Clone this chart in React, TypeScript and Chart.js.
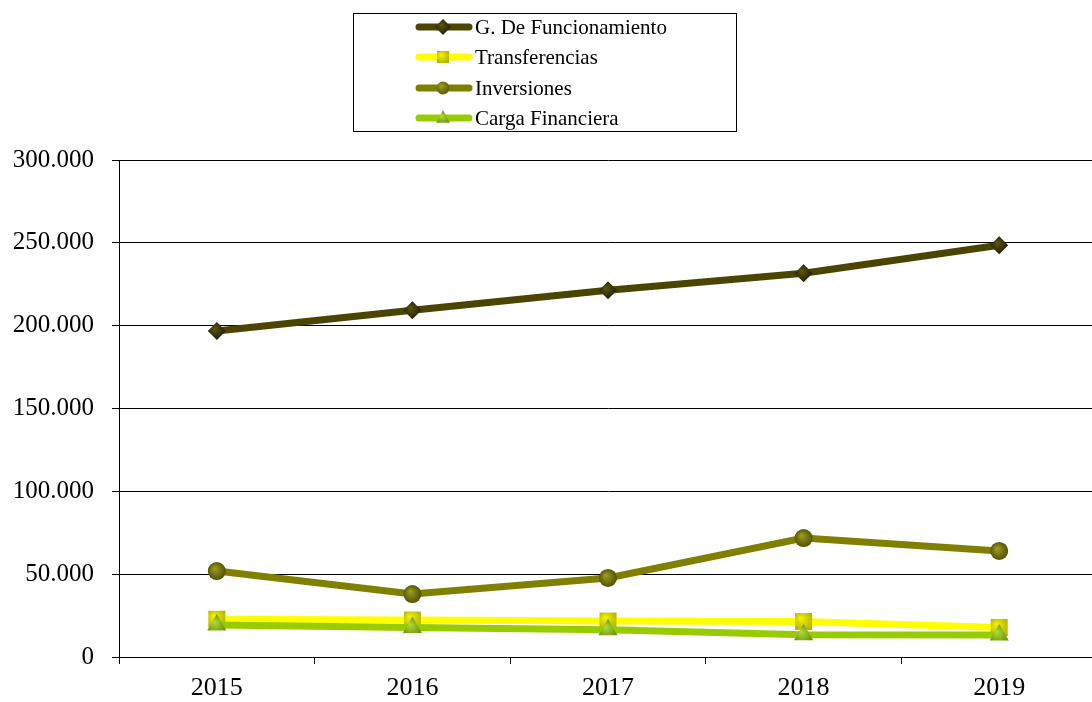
import React, { useEffect, useRef } from "react";
import { Chart, registerables } from "chart.js";

Chart.register(...registerables);

const years = ["2015", "2016", "2017", "2018", "2019"];
const funcionamiento = [196800, 209300, 221400, 231600, 248500];
const transferencias = [22800, 22300, 21700, 21400, 17800];
const inversiones = [51900, 38000, 47700, 71800, 64000];
const cargaFinanciera = [19300, 17800, 16400, 13400, 13300];
const yTicks = [0, 50000, 100000, 150000, 200000, 250000, 300000];

const seriesNames = ["G. De Funcionamiento", "Transferencias", "Inversiones", "Carga Financiera"];
const lineColors = ["#4a4500", "#ffff00", "#808000", "#99cc00"];
const markerLight = ["#5e5812", "#f4f400", "#a0a024", "#b4dc3c"];
const markerDark = ["#1c1a00", "#a4a400", "#4c4c00", "#5a8400"];
const markerStyles = ["rectRot", "rect", "circle", "triangle"];

const fmt = (v: number) => (v === 0 ? "0" : v.toLocaleString("de-DE"));

function grad(ctx: CanvasRenderingContext2D, i: number, x: number, y: number, r: number) {
  if (!isFinite(x) || !isFinite(y)) return markerDark[i] as any;
  const g = ctx.createRadialGradient(x - r * 0.25, y - r * 0.3, 0, x, y, r * 1.1);
  g.addColorStop(0, markerLight[i]);
  g.addColorStop(1, markerDark[i]);
  return g;
}

function drawMarker(ctx: CanvasRenderingContext2D, i: number, x: number, y: number, r: number) {
  const style = markerStyles[i];
  ctx.fillStyle = grad(ctx, i, x, y, r);
  ctx.beginPath();
  if (style === "rectRot") {
    ctx.moveTo(x - r, y);
    ctx.lineTo(x, y - r);
    ctx.lineTo(x + r, y);
    ctx.lineTo(x, y + r);
    ctx.closePath();
  } else if (style === "rect") {
    const s = r * 0.75;
    ctx.rect(x - s, y - s, 2 * s, 2 * s);
  } else if (style === "circle") {
    ctx.arc(x, y, r * 0.8, 0, Math.PI * 2);
  } else {
    ctx.moveTo(x, y - r);
    ctx.lineTo(x + r * 0.85, y + r * 0.6);
    ctx.lineTo(x - r * 0.85, y + r * 0.6);
    ctx.closePath();
  }
  ctx.fill();
}

const legendPlugin = {
  id: "boxLegend",
  afterDraw(chart: any) {
    const ctx = chart.ctx as CanvasRenderingContext2D;
    ctx.save();
    ctx.strokeStyle = "#000";
    ctx.lineWidth = 1;
    ctx.strokeRect(353.5, 13.5, 383, 118);
    const rows = [27, 57, 88, 118];
    ctx.font = "21px 'Liberation Serif', 'Times New Roman', serif";
    ctx.textBaseline = "middle";
    ctx.textAlign = "left";
    seriesNames.forEach((name, i) => {
      const y = rows[i];
      ctx.strokeStyle = lineColors[i];
      ctx.lineWidth = 7;
      ctx.lineCap = "round";
      ctx.beginPath();
      ctx.moveTo(419, y);
      ctx.lineTo(469, y);
      ctx.stroke();
      drawMarker(ctx, i, 443, y, 8);
      ctx.fillStyle = "#000";
      ctx.fillText(name, 475, y + 1);
    });
    ctx.restore();
  },
};

export default function App() {
  const ref = useRef<HTMLCanvasElement | null>(null);
  useEffect(() => {
    if (!ref.current) return;
    const fam = "'Liberation Serif', 'Times New Roman', serif";
    const mk = (i: number, data: number[], order: number, radius: number) => ({
      label: seriesNames[i],
      data,
      order,
      borderColor: lineColors[i],
      backgroundColor: markerDark[i],
      borderWidth: 7,
      pointStyle: markerStyles[i] as any,
      pointRadius: radius,
      pointBackgroundColor: (c: any) => {
        const ch = c.chart;
        const xs = ch && ch.scales && ch.scales.x;
        const ys = ch && ch.scales && ch.scales.y;
        if (!xs || !ys || c.dataIndex === undefined) return markerDark[i];
        const px = xs.getPixelForValue(c.dataIndex);
        const py = ys.getPixelForValue(data[c.dataIndex]);
        return grad(ch.ctx, i, px, py, radius);
      },
      pointBorderColor: markerDark[i],
      pointBorderWidth: 0,
      tension: 0,
    });
    const chart = new Chart(ref.current, {
      type: "line",
      data: {
        labels: years,
        datasets: [
          mk(0, funcionamiento, 0, 9),
          mk(1, transferencias, 3, 12),
          mk(2, inversiones, 2, 9),
          mk(3, cargaFinanciera, 1, 11),
        ],
      },
      plugins: [legendPlugin],
      options: {
        animation: false,
        responsive: false,
        events: [],
        layout: { autoPadding: false, padding: { top: 160, right: 3, left: 0, bottom: 0 } },
        plugins: { legend: { display: false }, tooltip: { enabled: false } },
        scales: {
          x: {
            offset: true,
            grid: { display: true, drawOnChartArea: false, drawTicks: true, tickLength: 7, color: "#000", offset: true },
            border: { display: true, color: "#000", width: 1 },
            ticks: { color: "#000", font: { family: fam, size: 26 }, padding: 9, maxRotation: 0 },
            afterFit: (s: any) => { s.height = 45; s.paddingLeft = 0; s.paddingRight = 0; },
          },
          y: {
            min: 0,
            max: 300000,
            afterBuildTicks: (s: any) => { s.ticks = yTicks.map((v) => ({ value: v })); },
            grid: { color: "#000", lineWidth: 1, drawTicks: true, tickLength: 7 },
            border: { display: true, color: "#000", width: 1 },
            ticks: { color: "#000", font: { family: fam, size: 25 }, padding: 18, callback: (v: any) => fmt(Number(v)) },
            afterFit: (s: any) => { s.width = 119; },
          },
        },
      },
    });
    return () => chart.destroy();
  }, []);
  return (
    <div style={{ position: "absolute", left: 0, top: 0, width: 1092, height: 702, overflow: "hidden", background: "#fff" }}>
      <canvas ref={ref} width={1100} height={702} style={{ width: 1100, height: 702, display: "block" }} />
    </div>
  );
}
